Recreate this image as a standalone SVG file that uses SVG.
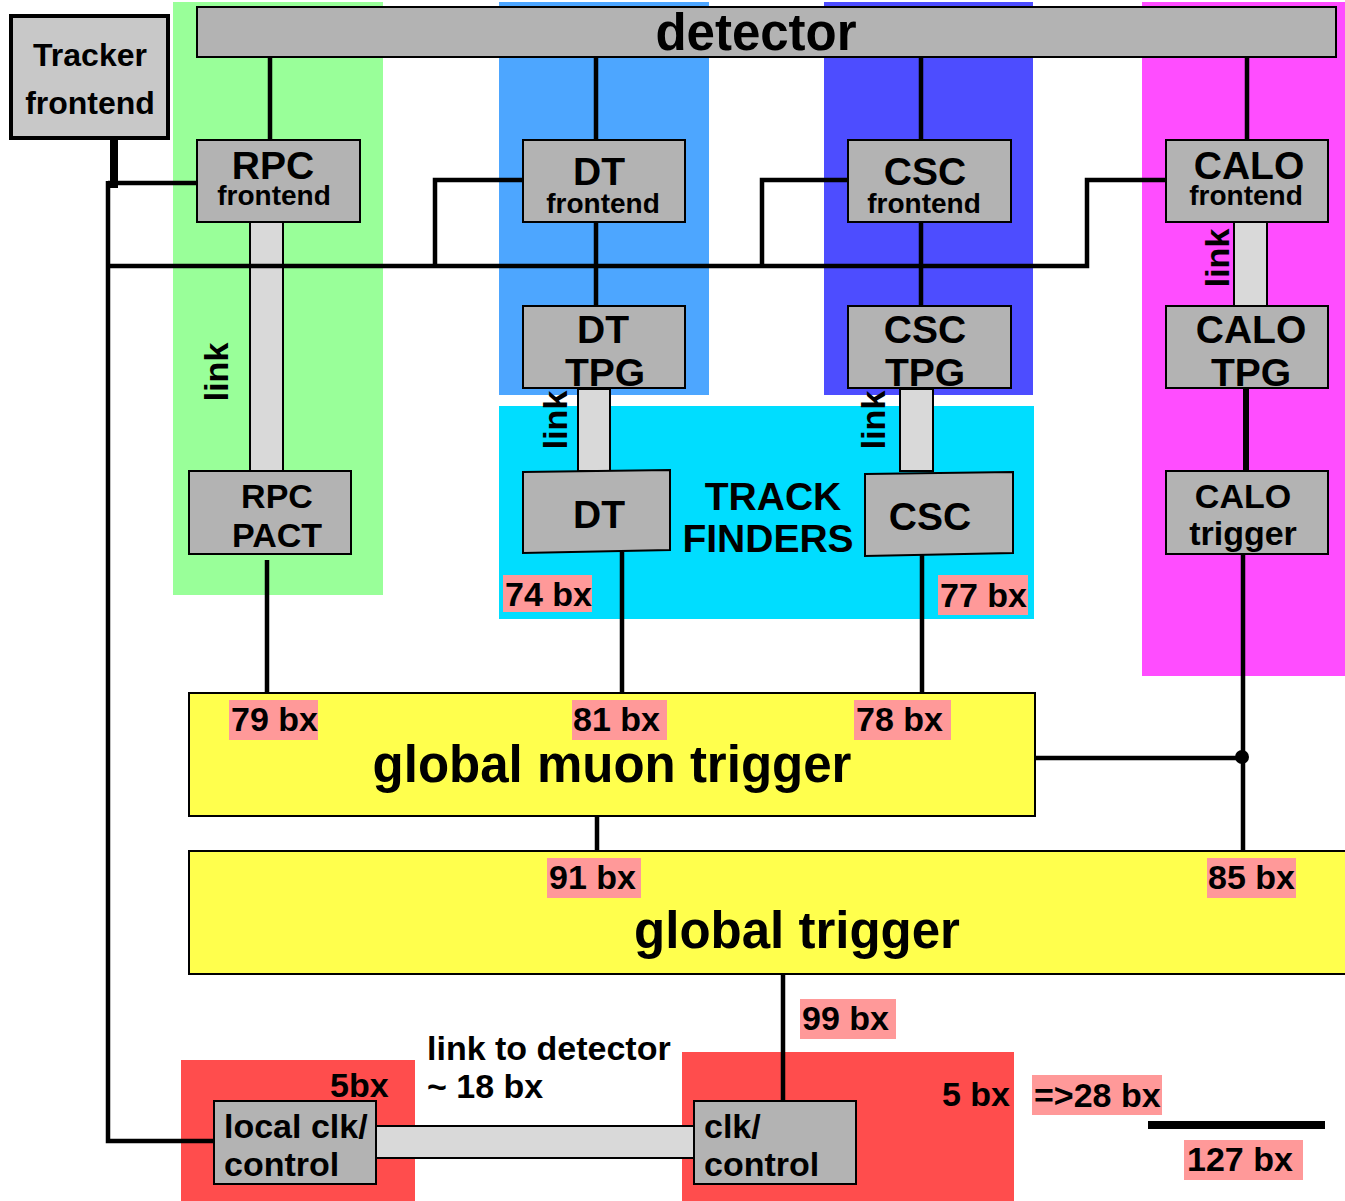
<svg xmlns="http://www.w3.org/2000/svg" width="1345" height="1201" viewBox="0 0 1345 1201">
<style>
text{font-family:"Liberation Sans",Arial,Helvetica,sans-serif;font-weight:bold;fill:#000}
.box{fill:#B3B3B3;stroke:#000;stroke-width:2}
.link{fill:#D9D9D9;stroke:#000;stroke-width:2}
.yel{fill:#FFFF4D;stroke:#000;stroke-width:2}
.lab{fill:#FF9999}
.c{text-anchor:middle}
.e{text-anchor:end}
.t51{font-size:51px}
.t39{font-size:39px}
.t34{font-size:34px}
.t32{font-size:32px}
.t28{font-size:28px}
.w{fill:none;stroke:#000;stroke-width:4.5}
</style>
<rect width="1345" height="1201" fill="#fff"/>
<g id="backgrounds">
<rect x="173" y="2" width="210" height="593" fill="#99FF99"/>
<rect x="499" y="2" width="210" height="393" fill="#4DA6FF"/>
<rect x="824" y="2" width="209" height="393" fill="#4D4DFF"/>
<rect x="1142" y="2" width="203" height="674" fill="#FF4DFF"/>
<rect x="499" y="406" width="535" height="213" fill="#00DDFF"/>
<rect x="181" y="1060" width="234" height="141" fill="#FF4D4D"/>
<rect x="682" y="1052" width="332" height="149" fill="#FF4D4D"/>
</g>
<g id="links">
<rect class="link" x="250" y="222" width="33" height="249"/>
<rect class="link" x="578" y="389" width="32" height="82"/>
<rect class="link" x="900" y="389" width="33" height="82"/>
<rect class="link" x="1234" y="222" width="33" height="84"/>
<rect class="link" x="376" y="1126" width="318" height="32"/>
<text class="t34 c" transform="translate(228,372) rotate(-90)">link</text>
<text class="t34 c" transform="translate(567,420) rotate(-90)">link</text>
<text class="t34 c" transform="translate(885,420) rotate(-90)">link</text>
<text class="t34 c" transform="translate(1229,258) rotate(-90)">link</text>
</g>
<g id="connectors">
<path class="w" d="M270 57V140M596 57V140M921 57V140M1247 57V140"/>
<path class="w" d="M596 222V306M921 222V306"/>
<path class="w" d="M108 183H197M108 181V1141H214"/>
<path fill="none" stroke="#000" stroke-width="8" d="M114 138V188"/>
<path class="w" d="M108 266H1087V180H1166M435 266V180H523M762 266V180H848"/>
<path fill="none" stroke="#000" stroke-width="6" d="M1246 389V471"/>
<path class="w" d="M267 560V693M622 552V693M922 555V693M1243 554V851M1035 758H1242M597 816V851M783 975V1102"/>
<circle cx="1242" cy="757" r="7" fill="#000"/>
<path fill="none" stroke="#000" stroke-width="8" d="M1148 1125H1325"/>
</g>
<g id="detector">
<rect class="box" x="197" y="7" width="1139" height="50"/>
<text class="t51 c" x="756" y="50">detector</text>
</g>
<g id="tracker">
<rect x="11" y="16" width="157" height="122" fill="#C8C8C8" stroke="#000" stroke-width="4"/>
<text class="t32 c" x="90" y="66">Tracker</text>
<text class="t32 c" x="90" y="114">frontend</text>
</g>
<g id="rpc-frontend">
<rect class="box" x="197" y="140" width="163" height="82"/>
<text class="t39 c" x="273" y="179">RPC</text>
<text class="t28 c" x="274" y="205">frontend</text>
</g>
<g id="dt-frontend">
<rect class="box" x="523" y="140" width="162" height="82"/>
<text class="t39 c" x="599" y="185">DT</text>
<text class="t28 c" x="603" y="213">frontend</text>
</g>
<g id="csc-frontend">
<rect class="box" x="848" y="140" width="163" height="82"/>
<text class="t39 c" x="925" y="185">CSC</text>
<text class="t28 c" x="924" y="213">frontend</text>
</g>
<g id="calo-frontend">
<rect class="box" x="1166" y="140" width="162" height="82"/>
<text class="t39 c" x="1249" y="179">CALO</text>
<text class="t28 c" x="1246" y="205">frontend</text>
</g>
<g id="dt-tpg">
<rect class="box" x="523" y="306" width="162" height="82"/>
<text class="t39 c" x="603" y="343">DT</text>
<text class="t39 c" x="605" y="386">TPG</text>
</g>
<g id="csc-tpg">
<rect class="box" x="848" y="306" width="163" height="82"/>
<text class="t39 c" x="925" y="343">CSC</text>
<text class="t39 c" x="925" y="386">TPG</text>
</g>
<g id="calo-tpg">
<rect class="box" x="1166" y="306" width="162" height="82"/>
<text class="t39 c" x="1251" y="343">CALO</text>
<text class="t39 c" x="1251" y="386">TPG</text>
</g>
<g id="rpc-pact">
<rect class="box" x="189" y="471" width="162" height="83"/>
<text class="t34 c" x="277" y="508">RPC</text>
<text class="t34 c" x="277" y="547">PACT</text>
</g>
<g id="dt-tf">
<polygon class="box" points="523,472 670,470 670,550 523,553"/>
<text class="t39 c" x="599" y="528">DT</text>
</g>
<g id="csc-tf">
<polygon class="box" points="865,474 1013,472 1013,553 865,556"/>
<text class="t39 c" x="930" y="530">CSC</text>
</g>
<g id="track-finders">
<text class="t39 c" x="773" y="510">TRACK</text>
<text class="t39 c" x="768" y="552">FINDERS</text>
</g>
<g id="calo-trigger">
<rect class="box" x="1166" y="471" width="162" height="83"/>
<text class="t34 c" x="1243" y="508">CALO</text>
<text class="t34 c" x="1243" y="545">trigger</text>
</g>
<g id="global-muon-trigger">
<rect class="yel" x="189" y="693" width="846" height="123"/>
<text class="t51 c" x="612" y="782">global muon trigger</text>
</g>
<g id="global-trigger">
<rect class="yel" x="189" y="851" width="1160" height="123"/>
<text class="t51 c" x="797" y="948">global trigger</text>
</g>
<g id="local-clk">
<rect class="box" x="214" y="1101" width="162" height="83"/>
<text class="t34" x="224" y="1138">local clk/</text>
<text class="t34" x="224" y="1176">control</text>
</g>
<g id="clk-control">
<rect class="box" x="694" y="1101" width="162" height="83"/>
<text class="t34" x="704" y="1138">clk/</text>
<text class="t34" x="704" y="1176">control</text>
</g>
<g id="labels">
<rect class="lab" x="503" y="575" width="89" height="37"/><text class="t34" x="505" y="606">74 bx</text>
<rect class="lab" x="938" y="575" width="90" height="40"/><text class="t34" x="940" y="607">77 bx</text>
<rect class="lab" x="229" y="700" width="89" height="40"/><text class="t34" x="231" y="731">79 bx</text>
<rect class="lab" x="572" y="700" width="95" height="40"/><text class="t34" x="573" y="731">81 bx</text>
<rect class="lab" x="854" y="700" width="97" height="40"/><text class="t34" x="856" y="731">78 bx</text>
<rect class="lab" x="547" y="858" width="94" height="40"/><text class="t34" x="549" y="889">91 bx</text>
<rect class="lab" x="1207" y="858" width="89" height="40"/><text class="t34" x="1208" y="889">85 bx</text>
<rect class="lab" x="800" y="999" width="96" height="40"/><text class="t34" x="802" y="1030">99 bx</text>
<rect class="lab" x="1032" y="1075" width="130" height="40"/><text class="t34" x="1034" y="1107">=&gt;28 bx</text>
<rect class="lab" x="1184" y="1140" width="119" height="40"/><text class="t34" x="1187" y="1171">127 bx</text>
<text class="t34" x="330" y="1097">5bx</text>
<text class="t34 e" x="1010" y="1106">5 bx</text>
<text class="t34" x="427" y="1060">link to detector</text>
<text class="t34" x="427" y="1098">~ 18 bx</text>
</g>
</svg>
